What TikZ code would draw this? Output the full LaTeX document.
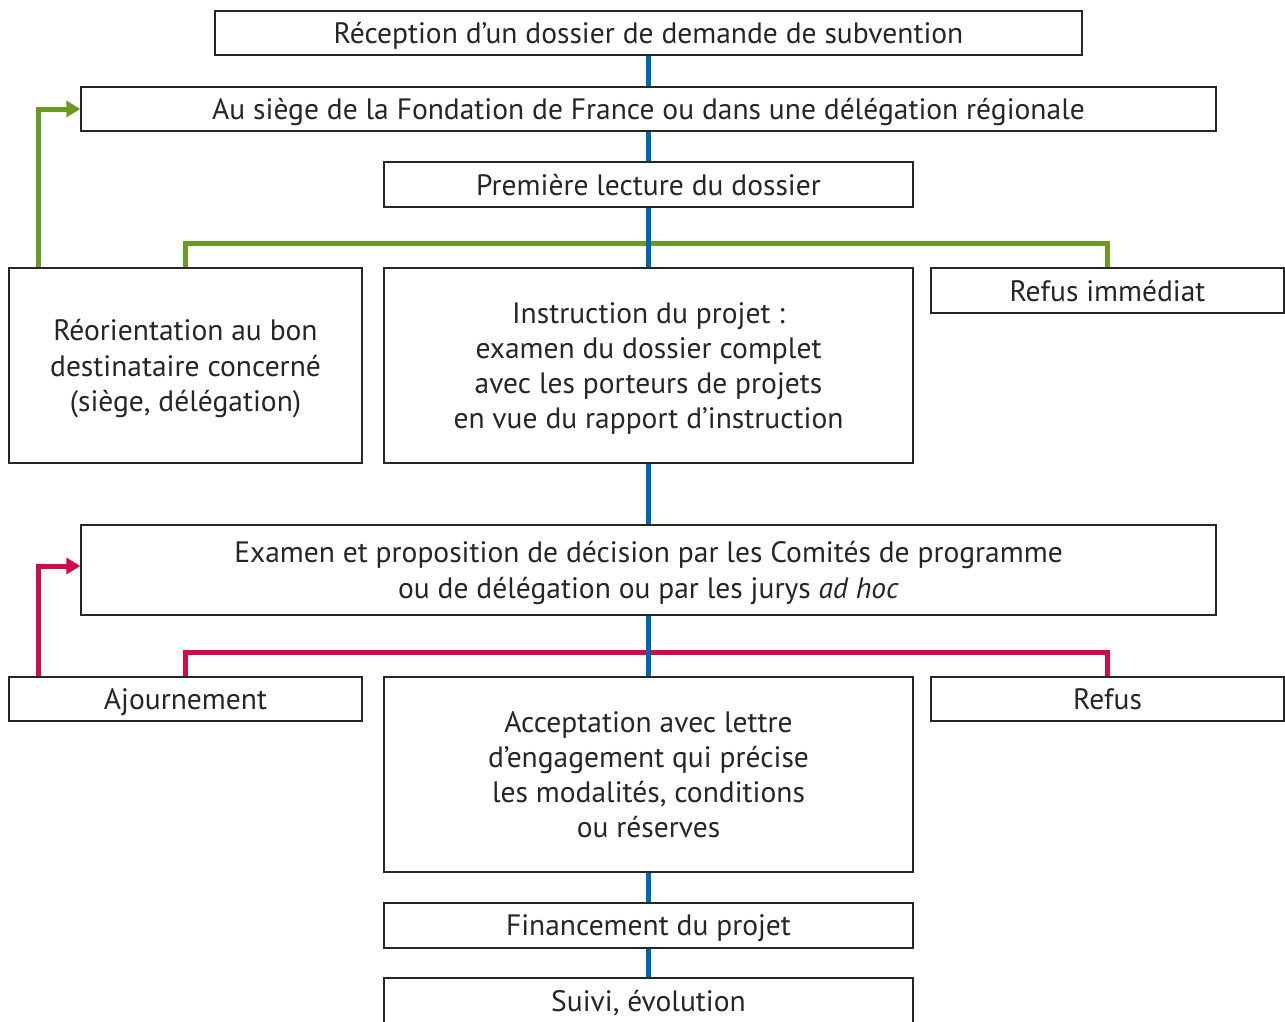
\documentclass[tikz,border=0pt]{standalone}
\usepackage{fontspec}
\setmainfont{PT Sans}
\usetikzlibrary{positioning}
\usetikzlibrary{arrows.meta}
\definecolor{trunkblue}{HTML}{0068B0}
\definecolor{leafgreen}{HTML}{6B9A22}
\definecolor{alertred}{HTML}{D10A48}

\begin{document}
\begin{tikzpicture}[x=1pt, y=-1pt,
  box/.style = {draw=black!85, line width=1.3pt, fill=white, align=center, inner sep=0pt,
                font=\fontsize{29.5}{35.3}\selectfont, text=black!85, text depth=-4pt},
  wide/.style = {minimum width=1135pt},
  mid/.style = {minimum width=529pt},
  side/.style = {minimum width=353pt},
  trunk/.style = {trunkblue, line width=5pt},
  branch/.style = {line width=5pt},
  back/.style = {line width=5pt, -{Triangle[length=14pt,width=16pt]}}]
\useasboundingbox (0,0) rectangle (1285,1021);
\node[box, minimum width=867pt, minimum height=44pt] (1) at (648.5,33) {Réception d’un dossier de demande de subvention};
\node[box, wide, minimum height=44pt] (2) at (648.5,109) {Au siège de la Fondation de France ou dans une délégation régionale};
\node[box, mid, minimum height=45pt] (3) at (648.5,184.5) {Première lecture du dossier};
\node[box, side, minimum height=195pt] (4) at (185.5,365.5) {Réorientation au bon\\destinataire concerné\\(siège, délégation)};
\node[box, mid, minimum height=195pt] (5) at (648.5,365.5) {Instruction du projet :\\examen du dossier complet\\avec les porteurs de projets\\en vue du rapport d’instruction};
\node[box, side, minimum height=45pt] (6) at (1107.5,290.5) {Refus immédiat};
\node[box, wide, minimum height=90pt] (7) at (648.5,570) {Examen et proposition de décision par les Comités de programme\\ou de délégation ou par les jurys \textit{ad hoc}};
\node[box, side, minimum height=44pt] (8) at (185.5,699) {Ajournement};
\node[box, mid, minimum height=195pt] (9) at (648.5,774.5) {Acceptation avec lettre\\d’engagement qui précise\\les modalités, conditions\\ou réserves};
\node[box, side, minimum height=44pt] (10) at (1107.5,699) {Refus};
\node[box, mid, minimum height=45pt] (11) at (648.5,925.5) {Financement du projet};
\node[box, mid, minimum height=45pt] (12) at (648.5,1000.5) {Suivi, évolution};
% branches
\draw[branch, leafgreen] (4.north) -- ++(0,-24) -| (6.north);
\draw[back, leafgreen] ([xshift=-147.5pt]4.north) |- (2.west);
\draw[branch, alertred] (8.north) -- ++(0,-24) -| (10.north);
\draw[back, alertred] ([xshift=-147.5pt]8.north) |- ([yshift=4pt]7.west);
% main line
\draw[trunk] (1) -- (2);
\draw[trunk] (2) -- (3);
\draw[trunk] (3) -- (5);
\draw[trunk] (5) -- (7);
\draw[trunk] (7) -- (9);
\draw[trunk] (9) -- (11);
\draw[trunk] (11) -- (12);
\end{tikzpicture}
\end{document}
